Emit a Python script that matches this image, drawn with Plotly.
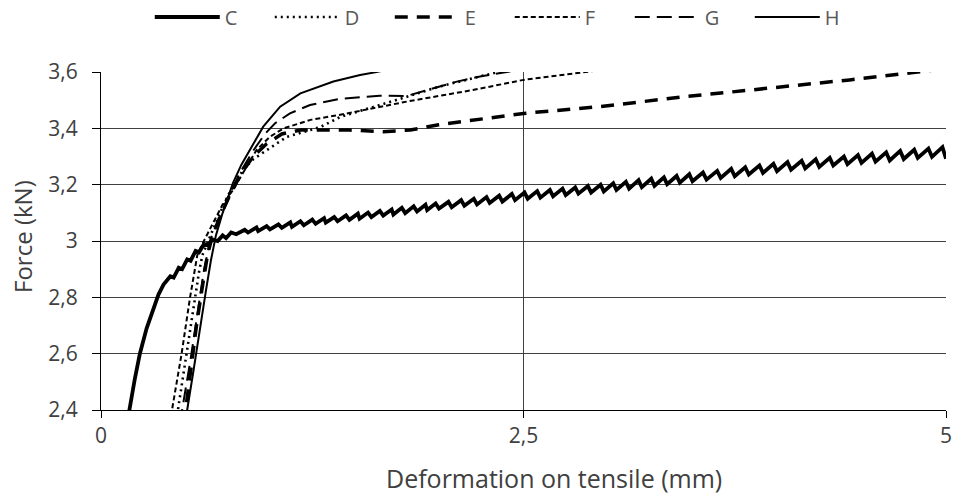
import plotly.graph_objects as go

# Force vs. deformation curves for specimens C-H (x in mm, y in kN)

c_x = [0.160, 0.168, 0.20, 0.23, 0.27, 0.31, 0.34, 0.37, 0.39, 0.41, 0.43, 0.46, 0.48,
       0.51, 0.53, 0.56, 0.58, 0.61, 0.63, 0.66, 0.69, 0.72, 0.74, 0.77,
       0.80, 0.85, 0.87, 0.92, 0.93, 0.98, 1.00, 1.05, 1.07, 1.12, 1.13, 1.18,
       1.20, 1.25, 1.27, 1.32, 1.33, 1.38, 1.40, 1.45, 1.47, 1.52, 1.53, 1.58,
       1.60, 1.65, 1.67, 1.72, 1.73, 1.78, 1.80, 1.85, 1.87, 1.92, 1.93, 1.98,
       2.00, 2.056, 2.075, 2.131, 2.15, 2.206, 2.225, 2.281, 2.30, 2.356, 2.375,
       2.431, 2.45, 2.506, 2.525, 2.581, 2.60, 2.656, 2.675, 2.731, 2.75, 2.806,
       2.825, 2.881, 2.90, 2.956, 2.975, 3.031, 3.05, 3.106, 3.125, 3.181, 3.20,
       3.256, 3.275, 3.331, 3.35, 3.406, 3.425, 3.481, 3.50,
       3.562, 3.583, 3.646, 3.667, 3.729, 3.75, 3.812, 3.833, 3.896, 3.917,
       3.979, 4.00, 4.062, 4.083, 4.146, 4.167, 4.229, 4.25, 4.312, 4.333,
       4.396, 4.417, 4.479, 4.50, 4.562, 4.583, 4.646, 4.667, 4.729, 4.75,
       4.812, 4.833, 4.896, 4.917, 4.979, 5.00]
c_y = [2.36, 2.40, 2.51, 2.60, 2.69, 2.76, 2.81, 2.845, 2.86, 2.875, 2.87, 2.905, 2.90,
       2.935, 2.93, 2.965, 2.96, 2.99, 2.985, 3.005, 3.00, 3.02, 3.01, 3.03,
       3.024, 3.040, 3.030, 3.048, 3.035, 3.053, 3.041, 3.059, 3.047, 3.066, 3.050, 3.070,
       3.056, 3.076, 3.061, 3.081, 3.065, 3.085, 3.070, 3.091, 3.075, 3.097, 3.079, 3.101,
       3.085, 3.107, 3.090, 3.112, 3.094, 3.118, 3.099, 3.123, 3.105, 3.129, 3.110, 3.133,
       3.115, 3.139, 3.120, 3.145, 3.125, 3.150, 3.130, 3.156, 3.135, 3.161, 3.140,
       3.167, 3.145, 3.172, 3.150, 3.177, 3.154, 3.181, 3.159, 3.186, 3.163, 3.190,
       3.168, 3.195, 3.172, 3.200, 3.176, 3.205, 3.181, 3.210, 3.186, 3.216, 3.191,
       3.221, 3.196, 3.226, 3.202, 3.231, 3.207, 3.237, 3.212,
       3.243, 3.218, 3.249, 3.224, 3.256, 3.230, 3.262, 3.236, 3.268, 3.242,
       3.274, 3.248, 3.280, 3.253, 3.285, 3.258, 3.290, 3.263, 3.295, 3.268,
       3.300, 3.273, 3.305, 3.277, 3.310, 3.282, 3.315, 3.286, 3.320, 3.291,
       3.324, 3.295, 3.328, 3.299, 3.333, 3.292]

d_x = [0.44, 0.455, 0.48, 0.505, 0.53, 0.555, 0.58, 0.60, 0.64, 0.69, 0.75, 0.80,
       0.84, 0.90, 0.98, 1.10, 1.24, 1.30, 1.414, 1.61, 1.81, 2.00, 2.20, 2.34, 2.45]
d_y = [2.34, 2.40, 2.50, 2.60, 2.70, 2.80, 2.89, 2.95, 3.01, 3.08, 3.16, 3.21,
       3.252, 3.29, 3.323, 3.37, 3.394, 3.405, 3.44, 3.475, 3.512, 3.548, 3.578, 3.60, 3.615]

e_x = [0.49, 0.50, 0.535, 0.565, 0.595, 0.63, 0.66, 0.70, 0.76, 0.83, 0.90, 0.98,
       1.07, 1.18, 1.47, 1.67, 1.83, 1.99, 2.14, 2.30, 2.50, 2.95, 3.15, 3.45,
       3.94, 4.43, 4.83, 5.0]
e_y = [2.35, 2.40, 2.55, 2.70, 2.82, 2.95, 3.02, 3.08, 3.16, 3.24, 3.30, 3.345,
       3.38, 3.394, 3.394, 3.388, 3.394, 3.412, 3.424, 3.436, 3.453, 3.477, 3.491, 3.512,
       3.542, 3.572, 3.60, 3.612]

f_x = [0.41, 0.42, 0.477, 0.527, 0.57, 0.60, 0.66, 0.72, 0.78, 0.84, 0.92, 1.00,
       1.08, 1.24, 1.43, 1.81, 2.20, 2.50, 2.85, 3.0]
f_y = [2.35, 2.40, 2.60, 2.80, 2.95, 2.99, 3.06, 3.13, 3.18, 3.24, 3.323, 3.37,
       3.40, 3.43, 3.45, 3.495, 3.536, 3.572, 3.60, 3.61]

g_x = [0.47, 0.48, 0.53, 0.57, 0.61, 0.65, 0.70, 0.76, 0.82, 0.90, 0.97, 1.03,
       1.118, 1.237, 1.414, 1.65, 1.81, 1.95, 2.10, 2.25, 2.40, 2.50]
g_y = [2.35, 2.40, 2.58, 2.74, 2.90, 3.01, 3.08, 3.16, 3.24, 3.32, 3.38, 3.418,
       3.453, 3.483, 3.505, 3.516, 3.515, 3.54, 3.565, 3.585, 3.60, 3.61]

h_x = [0.50, 0.51, 0.55, 0.585, 0.62, 0.65, 0.68, 0.72, 0.78, 0.83, 0.88, 0.96,
       1.06, 1.18, 1.375, 1.533, 1.63, 1.75]
h_y = [2.35, 2.40, 2.55, 2.69, 2.82, 2.93, 3.02, 3.10, 3.205, 3.27, 3.323, 3.406,
       3.477, 3.524, 3.566, 3.589, 3.60, 3.615]

x_ticks = [0, 2.5, 5]
y_ticks = [2.4, 2.6, 2.8, 3.0, 3.2, 3.4, 3.6]

series = [
    ("C", c_x, c_y, dict(width=3.8, dash="solid")),
    ("D", d_x, d_y, dict(width=2.6, dash="2px,4px")),
    ("E", e_x, e_y, dict(width=3.5, dash="13px,9px")),
    ("F", f_x, f_y, dict(width=2.0, dash="5px,3px")),
    ("G", g_x, g_y, dict(width=2.0, dash="15px,7px")),
    ("H", h_x, h_y, dict(width=2.0, dash="solid")),
]

fig = go.Figure()
for name, xs, ys, style in series:
    fig.add_trace(go.Scatter(
        x=xs, y=ys, mode="lines", name=name,
        line=dict(color="black", **style),
    ))

axis_common = dict(
    showgrid=True, gridcolor="#404040", gridwidth=1,
    showline=True, linecolor="black", linewidth=1.3,
    ticks="outside", tickcolor="black", tickwidth=1.3,
    zeroline=False, automargin=False,
    tickfont=dict(size=21, color="#404040"),
)

fig.update_layout(
    width=954, height=495,
    margin=dict(l=101, r=8, t=72, b=85, autoexpand=False),
    paper_bgcolor="white", plot_bgcolor="white",
    separators=", ",
    font=dict(family="Open Sans", color="#404040"),
    showlegend=True,
    legend=dict(
        orientation="h", xref="container", yref="container",
        x=0.157, xanchor="left", y=0.9657, yanchor="middle",
        font=dict(size=20, color="#595959"),
        itemwidth=65, entrywidth=40, traceorder="normal",
        bgcolor="rgba(0,0,0,0)",
    ),
    xaxis=dict(range=[0, 5], tickvals=x_ticks, ticklen=7, **axis_common),
    yaxis=dict(range=[2.4, 3.6], tickvals=y_ticks, ticklen=8, ticklabelstandoff=10,
               **axis_common),
    annotations=[
        dict(text="Deformation on tensile (mm)", xref="paper", yref="paper",
             x=0.536, y=-0.201, xanchor="center", yanchor="middle", showarrow=False,
             font=dict(size=25, color="#404040")),
        dict(text="Force (kN)", xref="paper", yref="paper", textangle=-90,
             x=-0.0923, y=0.512, xanchor="center", yanchor="middle", showarrow=False,
             font=dict(size=24, color="#404040")),
    ],
)

fig.write_html("out.html")
